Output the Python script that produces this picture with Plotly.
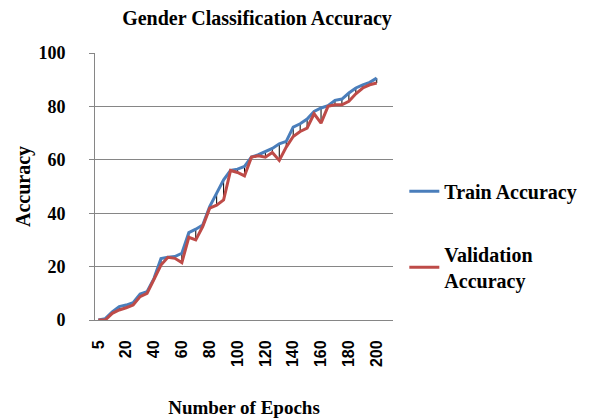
import plotly.graph_objects as go

epochs = [5 * i for i in range(41)]
train_acc = [0, 0.5, 3, 5, 5.6, 6.5, 9.75, 10.6, 15.6, 23, 23.5, 23.75, 25, 32.75, 34, 35.6,
             42.5, 47.75, 52.5, 56, 56.5, 57.5, 61, 61.9, 63.1, 64.25, 66, 66.9, 72.25, 73.5,
             75.25, 78.1, 79.4, 80.25, 82.25, 82.75, 85, 86.9, 88.1, 89, 90.6]
val_acc = [0, 0, 2.5, 3.75, 4.6, 5.6, 8.75, 10, 15.25, 20.6, 23.5, 23.1, 21.5, 31, 30, 35,
           41.9, 43, 45, 56, 55.25, 54, 61, 61.5, 61, 62.75, 59.75, 64.75, 68.75, 70.6,
           71.9, 77.25, 73.75, 80, 80.6, 80.6, 81.9, 84.75, 86.9, 88.1, 88.75]
tick_vals = [0, 20, 40, 60, 80, 100, 120, 140, 160, 180, 200]
tick_text = ["5", "20", "40", "60", "80", "100", "120", "140", "160", "180", "200"]
y_ticks = [0, 20, 40, 60, 80, 100]

SERIF = "Liberation Serif"
SANS = "Liberation Sans"

# high-low lines between series
hl_x, hl_y = [], []
for e, t, v in zip(epochs, train_acc, val_acc):
    hl_x += [e, e, None]
    hl_y += [t, v, None]

fig = go.Figure()
fig.add_trace(go.Scatter(x=hl_x, y=hl_y, mode="lines", line=dict(color="black", width=1),
                         showlegend=False, hoverinfo="skip"))
fig.add_trace(go.Scatter(x=epochs, y=train_acc, mode="lines", name="<b>Train Accuracy</b>",
                         legendgroup="a", line=dict(color="#4A7EBB", width=3)))
fig.add_trace(go.Scatter(x=epochs, y=val_acc, mode="lines", name="<b>Validation<br>Accuracy</b>",
                         legendgroup="b", line=dict(color="#BE4B48", width=3)))

fig.update_layout(
    width=591, height=419,
    margin=dict(l=87, r=206, t=45, b=107),
    paper_bgcolor="white", plot_bgcolor="white",
    title=dict(text="<b>Gender Classification Accuracy</b>", x=249/591, xref="container",
               xanchor="center", y=1 - 10/419, yref="container", yanchor="middle",
               font=dict(family=SERIF, size=20, color="black")),
    legend=dict(x=1.038, y=0.555, xanchor="left", yanchor="top", traceorder="grouped",
                font=dict(family=SERIF, size=20, color="black"),
                tracegroupgap=34, itemwidth=30, bgcolor="rgba(0,0,0,0)"),
    showlegend=True,
)
fig.update_xaxes(range=[-2.4, 211.7], tickvals=tick_vals, ticktext=tick_text, tickangle=-90,
                 showgrid=False, zeroline=False, showline=True, linecolor="#868686", linewidth=1,
                 ticks="", ticklabelstandoff=13, automargin=False,
                 tickfont=dict(family=SANS, size=16, color="black", weight="bold"),
                 title=dict(text="<b>Number of Epochs</b>", standoff=34,
                            font=dict(family=SERIF, size=19, color="black")))
fig.update_yaxes(range=[0, 100], tickvals=y_ticks, showgrid=True, gridcolor="#868686", gridwidth=1,
                 zeroline=False, showline=True, linecolor="#868686", linewidth=1,
                 ticks="outside", ticklen=5, tickcolor="#868686", ticklabelstandoff=20,
                 automargin=False,
                 tickfont=dict(family=SERIF, size=18, color="black", weight="bold"),
                 title=dict(text="<b>Accuracy</b>", standoff=2,
                            font=dict(family=SERIF, size=20, color="black")))

fig.write_html("out.html")
